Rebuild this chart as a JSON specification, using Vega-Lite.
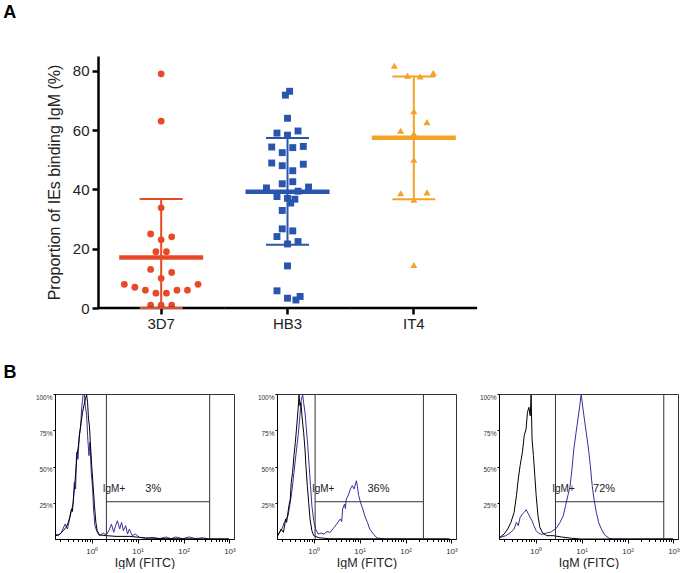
{
"$schema":"https://vega.github.io/schema/vega-lite/v6.json",
"padding":{"left":2,"top":4,"right":0,"bottom":0},
"config":{"font":"Liberation Sans","view":{"stroke":null}},
"datasets":{
"pts":[
{"strain":"3D7","v":79,"slot":0},{"strain":"3D7","v":63,"slot":0},{"strain":"3D7","v":33.8,"slot":0},{"strain":"3D7","v":25,"slot":-2},{"strain":"3D7","v":24,"slot":2},{"strain":"3D7","v":23,"slot":0},{"strain":"3D7","v":19,"slot":-1},{"strain":"3D7","v":19,"slot":1},{"strain":"3D7","v":13,"slot":-2},{"strain":"3D7","v":12,"slot":2},{"strain":"3D7","v":10,"slot":0},{"strain":"3D7","v":8,"slot":-7},{"strain":"3D7","v":8,"slot":7},{"strain":"3D7","v":7,"slot":-5},{"strain":"3D7","v":6,"slot":-3},{"strain":"3D7","v":6,"slot":3},{"strain":"3D7","v":6,"slot":5},{"strain":"3D7","v":5,"slot":-1},{"strain":"3D7","v":5,"slot":1},{"strain":"3D7","v":1,"slot":-2},{"strain":"3D7","v":1,"slot":0},{"strain":"3D7","v":1,"slot":2},
{"strain":"HB3","v":71.8,"slot":-0.4},{"strain":"HB3","v":73.1,"slot":0.4},{"strain":"HB3","v":64,"slot":0},{"strain":"HB3","v":59,"slot":-2},{"strain":"HB3","v":59.7,"slot":2},{"strain":"HB3","v":58.3,"slot":0},{"strain":"HB3","v":54.3,"slot":-3},{"strain":"HB3","v":54.1,"slot":1},{"strain":"HB3","v":54.5,"slot":3},{"strain":"HB3","v":52.4,"slot":-1},{"strain":"HB3","v":48.9,"slot":-3},{"strain":"HB3","v":48,"slot":-1},{"strain":"HB3","v":48.5,"slot":3},{"strain":"HB3","v":46.3,"slot":1},{"strain":"HB3","v":42.6,"slot":1},{"strain":"HB3","v":41.9,"slot":-1},{"strain":"HB3","v":40.5,"slot":-4},{"strain":"HB3","v":40.8,"slot":4},{"strain":"HB3","v":39.4,"slot":2},{"strain":"HB3","v":37.6,"slot":-2},{"strain":"HB3","v":37,"slot":0},{"strain":"HB3","v":35.4,"slot":0.6},{"strain":"HB3","v":36.7,"slot":1.4},{"strain":"HB3","v":32.9,"slot":-1},{"strain":"HB3","v":26.7,"slot":-1},{"strain":"HB3","v":26,"slot":1},{"strain":"HB3","v":24.1,"slot":-2},{"strain":"HB3","v":22.4,"slot":2},{"strain":"HB3","v":21.6,"slot":0},{"strain":"HB3","v":14.2,"slot":0},{"strain":"HB3","v":5.8,"slot":-2},{"strain":"HB3","v":3.3,"slot":0},{"strain":"HB3","v":2.7,"slot":1.6},{"strain":"HB3","v":3.9,"slot":2.4},
{"strain":"IT4","v":81.7,"slot":-3.7},{"strain":"IT4","v":78.4,"slot":-1.2},{"strain":"IT4","v":78.1,"slot":1.2},{"strain":"IT4","v":79.3,"slot":3.7},{"strain":"IT4","v":66.4,"slot":0},{"strain":"IT4","v":62.7,"slot":2.5},{"strain":"IT4","v":59.8,"slot":-2.5},{"strain":"IT4","v":58.8,"slot":0},{"strain":"IT4","v":50,"slot":0},{"strain":"IT4","v":38.7,"slot":-2.5},{"strain":"IT4","v":39,"slot":2.5},{"strain":"IT4","v":36.5,"slot":0},{"strain":"IT4","v":14.5,"slot":0}
],
"summ":[
{"strain":"3D7","mean":17,"lo":0,"hi":36.8},
{"strain":"HB3","mean":39.2,"lo":21.3,"hi":57.3},
{"strain":"IT4","mean":57.4,"lo":36.7,"hi":78.1}
],
"h1":[
{"s":"IgM","lx":-0.78,"pct":3.4},{"s":"IgM","lx":-0.73,"pct":2.3},{"s":"IgM","lx":-0.66,"pct":4.6},{"s":"IgM","lx":-0.58,"pct":10.3},{"s":"IgM","lx":-0.53,"pct":6.9},{"s":"IgM","lx":-0.49,"pct":12.6},{"s":"IgM","lx":-0.45,"pct":18.4},{"s":"IgM","lx":-0.40,"pct":25.3},{"s":"IgM","lx":-0.38,"pct":39},{"s":"IgM","lx":-0.35,"pct":34.5},{"s":"IgM","lx":-0.33,"pct":59.8},{"s":"IgM","lx":-0.30,"pct":55},{"s":"IgM","lx":-0.27,"pct":71.3},{"s":"IgM","lx":-0.24,"pct":78},{"s":"IgM","lx":-0.22,"pct":89.7},{"s":"IgM","lx":-0.19,"pct":98.9},{"s":"IgM","lx":-0.16,"pct":100},{"s":"IgM","lx":-0.14,"pct":92},{"s":"IgM","lx":-0.11,"pct":85},{"s":"IgM","lx":-0.09,"pct":71.3},{"s":"IgM","lx":-0.06,"pct":57.5},{"s":"IgM","lx":-0.04,"pct":66.7},{"s":"IgM","lx":-0.01,"pct":46},{"s":"IgM","lx":0.02,"pct":34.5},{"s":"IgM","lx":0.04,"pct":20.7},{"s":"IgM","lx":0.07,"pct":9.2},{"s":"IgM","lx":0.12,"pct":4.6},{"s":"IgM","lx":0.17,"pct":2.3},{"s":"IgM","lx":0.25,"pct":4.1},{"s":"IgM","lx":0.32,"pct":2.8},{"s":"IgM","lx":0.39,"pct":6.9},{"s":"IgM","lx":0.43,"pct":10.3},{"s":"IgM","lx":0.48,"pct":4.6},{"s":"IgM","lx":0.52,"pct":9.2},{"s":"IgM","lx":0.56,"pct":12.6},{"s":"IgM","lx":0.61,"pct":6.9},{"s":"IgM","lx":0.65,"pct":11.5},{"s":"IgM","lx":0.69,"pct":5.7},{"s":"IgM","lx":0.74,"pct":9.2},{"s":"IgM","lx":0.78,"pct":3.4},{"s":"IgM","lx":0.82,"pct":6.9},{"s":"IgM","lx":0.88,"pct":2.3},{"s":"IgM","lx":0.95,"pct":3.4},{"s":"IgM","lx":1.04,"pct":1.1},{"s":"IgM","lx":1.18,"pct":0.5},{"s":"IgM","lx":1.33,"pct":1.1},{"s":"IgM","lx":1.47,"pct":0.2},{"s":"IgM","lx":1.62,"pct":1.4},{"s":"IgM","lx":1.73,"pct":0.2},{"s":"IgM","lx":1.83,"pct":1.4},{"s":"IgM","lx":1.98,"pct":0.2},{"s":"IgM","lx":2.12,"pct":1.4},{"s":"IgM","lx":2.27,"pct":0.2},{"s":"IgM","lx":2.41,"pct":0.9},{"s":"IgM","lx":2.55,"pct":0},{"s":"IgM","lx":2.99,"pct":0},
{"s":"Control","lx":-0.78,"pct":2.3},{"s":"Control","lx":-0.69,"pct":3.4},{"s":"Control","lx":-0.62,"pct":5.7},{"s":"Control","lx":-0.56,"pct":8},{"s":"Control","lx":-0.51,"pct":11.5},{"s":"Control","lx":-0.48,"pct":15},{"s":"Control","lx":-0.44,"pct":20.7},{"s":"Control","lx":-0.42,"pct":19},{"s":"Control","lx":-0.40,"pct":27.6},{"s":"Control","lx":-0.37,"pct":36.8},{"s":"Control","lx":-0.35,"pct":46},{"s":"Control","lx":-0.32,"pct":57.5},{"s":"Control","lx":-0.29,"pct":64.4},{"s":"Control","lx":-0.26,"pct":73.6},{"s":"Control","lx":-0.23,"pct":80.5},{"s":"Control","lx":-0.20,"pct":87.4},{"s":"Control","lx":-0.17,"pct":92},{"s":"Control","lx":-0.14,"pct":96.6},{"s":"Control","lx":-0.11,"pct":99.3},{"s":"Control","lx":-0.09,"pct":94},{"s":"Control","lx":-0.07,"pct":82.8},{"s":"Control","lx":-0.05,"pct":78},{"s":"Control","lx":-0.03,"pct":66.7},{"s":"Control","lx":0.0,"pct":50.6},{"s":"Control","lx":0.03,"pct":36.8},{"s":"Control","lx":0.06,"pct":23},{"s":"Control","lx":0.09,"pct":11.5},{"s":"Control","lx":0.12,"pct":5.7},{"s":"Control","lx":0.17,"pct":2.8},{"s":"Control","lx":0.32,"pct":2.3},{"s":"Control","lx":0.53,"pct":1.8},{"s":"Control","lx":0.82,"pct":1.8},{"s":"Control","lx":0.97,"pct":1.4},{"s":"Control","lx":1.18,"pct":0.7},{"s":"Control","lx":1.62,"pct":0.2},{"s":"Control","lx":2.99,"pct":0}
],
"h2":[
{"s":"IgM","lx":-0.78,"pct":3.4},{"s":"IgM","lx":-0.71,"pct":5.7},{"s":"IgM","lx":-0.64,"pct":11.5},{"s":"IgM","lx":-0.56,"pct":16},{"s":"IgM","lx":-0.51,"pct":25.3},{"s":"IgM","lx":-0.47,"pct":34.5},{"s":"IgM","lx":-0.43,"pct":46},{"s":"IgM","lx":-0.39,"pct":57.5},{"s":"IgM","lx":-0.34,"pct":71.3},{"s":"IgM","lx":-0.30,"pct":85},{"s":"IgM","lx":-0.27,"pct":96.6},{"s":"IgM","lx":-0.24,"pct":99.3},{"s":"IgM","lx":-0.22,"pct":94},{"s":"IgM","lx":-0.19,"pct":87.4},{"s":"IgM","lx":-0.16,"pct":75.9},{"s":"IgM","lx":-0.13,"pct":64.4},{"s":"IgM","lx":-0.10,"pct":50.6},{"s":"IgM","lx":-0.07,"pct":36.8},{"s":"IgM","lx":-0.04,"pct":23},{"s":"IgM","lx":0.0,"pct":12.6},{"s":"IgM","lx":0.04,"pct":6.9},{"s":"IgM","lx":0.10,"pct":3.4},{"s":"IgM","lx":0.16,"pct":4.1},{"s":"IgM","lx":0.22,"pct":3.4},{"s":"IgM","lx":0.29,"pct":5.1},{"s":"IgM","lx":0.36,"pct":4.6},{"s":"IgM","lx":0.43,"pct":7.4},{"s":"IgM","lx":0.50,"pct":10.3},{"s":"IgM","lx":0.58,"pct":13.8},{"s":"IgM","lx":0.61,"pct":12},{"s":"IgM","lx":0.63,"pct":20.7},{"s":"IgM","lx":0.67,"pct":24.1},{"s":"IgM","lx":0.69,"pct":21},{"s":"IgM","lx":0.71,"pct":27.6},{"s":"IgM","lx":0.75,"pct":29.9},{"s":"IgM","lx":0.80,"pct":34.5},{"s":"IgM","lx":0.84,"pct":36.8},{"s":"IgM","lx":0.88,"pct":34.5},{"s":"IgM","lx":0.93,"pct":40.2},{"s":"IgM","lx":0.95,"pct":36.8},{"s":"IgM","lx":0.98,"pct":29.9},{"s":"IgM","lx":1.03,"pct":24.1},{"s":"IgM","lx":1.07,"pct":20.7},{"s":"IgM","lx":1.11,"pct":16},{"s":"IgM","lx":1.17,"pct":11.5},{"s":"IgM","lx":1.22,"pct":6.9},{"s":"IgM","lx":1.30,"pct":3.4},{"s":"IgM","lx":1.38,"pct":0.7},{"s":"IgM","lx":1.54,"pct":0},{"s":"IgM","lx":2.96,"pct":0},
{"s":"Control","lx":-0.78,"pct":2.3},{"s":"Control","lx":-0.71,"pct":6.9},{"s":"Control","lx":-0.66,"pct":4.6},{"s":"Control","lx":-0.61,"pct":13.8},{"s":"Control","lx":-0.59,"pct":11.5},{"s":"Control","lx":-0.54,"pct":23},{"s":"Control","lx":-0.51,"pct":27.6},{"s":"Control","lx":-0.49,"pct":39},{"s":"Control","lx":-0.46,"pct":46},{"s":"Control","lx":-0.43,"pct":57.5},{"s":"Control","lx":-0.40,"pct":66.7},{"s":"Control","lx":-0.37,"pct":78},{"s":"Control","lx":-0.34,"pct":89.7},{"s":"Control","lx":-0.32,"pct":99.3},{"s":"Control","lx":-0.30,"pct":92},{"s":"Control","lx":-0.28,"pct":94},{"s":"Control","lx":-0.25,"pct":82.8},{"s":"Control","lx":-0.22,"pct":73.6},{"s":"Control","lx":-0.19,"pct":62},{"s":"Control","lx":-0.17,"pct":50.6},{"s":"Control","lx":-0.14,"pct":36.8},{"s":"Control","lx":-0.11,"pct":25.3},{"s":"Control","lx":-0.08,"pct":13.8},{"s":"Control","lx":-0.04,"pct":5.7},{"s":"Control","lx":0.0,"pct":2.3},{"s":"Control","lx":0.11,"pct":0.9},{"s":"Control","lx":0.33,"pct":0.2},{"s":"Control","lx":2.96,"pct":0}
],
"h3":[
{"s":"IgM","lx":-0.78,"pct":1.1},{"s":"IgM","lx":-0.65,"pct":2.3},{"s":"IgM","lx":-0.54,"pct":4.6},{"s":"IgM","lx":-0.47,"pct":6.9},{"s":"IgM","lx":-0.42,"pct":11.5},{"s":"IgM","lx":-0.38,"pct":9.2},{"s":"IgM","lx":-0.34,"pct":14.9},{"s":"IgM","lx":-0.29,"pct":17.2},{"s":"IgM","lx":-0.25,"pct":18.4},{"s":"IgM","lx":-0.21,"pct":20.2},{"s":"IgM","lx":-0.17,"pct":17.9},{"s":"IgM","lx":-0.12,"pct":14.9},{"s":"IgM","lx":-0.08,"pct":12.6},{"s":"IgM","lx":-0.04,"pct":9.2},{"s":"IgM","lx":0.01,"pct":5.7},{"s":"IgM","lx":0.06,"pct":4.1},{"s":"IgM","lx":0.13,"pct":3.2},{"s":"IgM","lx":0.24,"pct":4.1},{"s":"IgM","lx":0.35,"pct":5.1},{"s":"IgM","lx":0.45,"pct":7.4},{"s":"IgM","lx":0.53,"pct":11.5},{"s":"IgM","lx":0.60,"pct":16},{"s":"IgM","lx":0.65,"pct":23},{"s":"IgM","lx":0.70,"pct":29.9},{"s":"IgM","lx":0.75,"pct":36.8},{"s":"IgM","lx":0.79,"pct":48.3},{"s":"IgM","lx":0.83,"pct":62},{"s":"IgM","lx":0.88,"pct":73.6},{"s":"IgM","lx":0.92,"pct":82.8},{"s":"IgM","lx":0.96,"pct":92},{"s":"IgM","lx":0.99,"pct":100},{"s":"IgM","lx":1.03,"pct":89.7},{"s":"IgM","lx":1.06,"pct":82.8},{"s":"IgM","lx":1.10,"pct":73.6},{"s":"IgM","lx":1.15,"pct":62},{"s":"IgM","lx":1.19,"pct":50.6},{"s":"IgM","lx":1.23,"pct":36.8},{"s":"IgM","lx":1.27,"pct":27.6},{"s":"IgM","lx":1.32,"pct":18.4},{"s":"IgM","lx":1.37,"pct":11.5},{"s":"IgM","lx":1.43,"pct":6.9},{"s":"IgM","lx":1.50,"pct":2.8},{"s":"IgM","lx":1.60,"pct":0.5},{"s":"IgM","lx":1.70,"pct":0},{"s":"IgM","lx":2.99,"pct":0},
{"s":"Control","lx":-0.78,"pct":1.1},{"s":"Control","lx":-0.69,"pct":3.4},{"s":"Control","lx":-0.61,"pct":6.9},{"s":"Control","lx":-0.54,"pct":11.5},{"s":"Control","lx":-0.47,"pct":18.4},{"s":"Control","lx":-0.42,"pct":29.9},{"s":"Control","lx":-0.38,"pct":41.4},{"s":"Control","lx":-0.34,"pct":50.6},{"s":"Control","lx":-0.29,"pct":59.8},{"s":"Control","lx":-0.25,"pct":71.3},{"s":"Control","lx":-0.21,"pct":75.9},{"s":"Control","lx":-0.18,"pct":87.4},{"s":"Control","lx":-0.15,"pct":90.8},{"s":"Control","lx":-0.12,"pct":85},{"s":"Control","lx":-0.10,"pct":99.3},{"s":"Control","lx":-0.08,"pct":69},{"s":"Control","lx":-0.05,"pct":57.5},{"s":"Control","lx":-0.02,"pct":43.7},{"s":"Control","lx":0.01,"pct":29.9},{"s":"Control","lx":0.05,"pct":16},{"s":"Control","lx":0.09,"pct":8},{"s":"Control","lx":0.15,"pct":4.1},{"s":"Control","lx":0.24,"pct":2.3},{"s":"Control","lx":0.38,"pct":2.3},{"s":"Control","lx":0.56,"pct":1.4},{"s":"Control","lx":0.78,"pct":0.5},{"s":"Control","lx":0.99,"pct":0},{"s":"Control","lx":2.99,"pct":0}
],
"gates":[
{"panel":1,"lo":0.32,"hi":2.57,"h":25.7,"labx":0.24,"pctx":1.34,"laby":34.5,"pos":"3%","lab":"IgM+"},
{"panel":2,"lo":0.03,"hi":2.39,"h":25.7,"labx":-0.04,"pctx":1.41,"laby":34.5,"pos":"36%","lab":"IgM+"},
{"panel":3,"lo":0.43,"hi":2.79,"h":25.7,"labx":0.36,"pctx":1.49,"laby":34.5,"pos":"72%","lab":"IgM+"}
]
},
"spacing":32,
"vconcat":[
{
"title":{"text":"A","anchor":"start","fontSize":18,"fontWeight":"bold","dx":-43,"offset":34,"color":"#000"},
"width":422,"height":252,
"layer":[
{"data":{"name":"pts"},"mark":{"type":"point","filled":true,"opacity":1},
"encoding":{
"x":{"field":"strain","type":"nominal","scale":{"domain":["3D7","HB3","IT4"],"paddingInner":0,"paddingOuter":0.1702,"align":1},"axis":{"title":null,"labelAngle":0,"labelFontSize":15,"labelColor":"#222","domain":false,"tickColor":"#000","tickWidth":2.5,"tickSize":6,"labelPadding":2}},
"xOffset":{"field":"slot","type":"quantitative","scale":{"domain":[-12,12],"nice":false,"zero":false}},
"y":{"field":"v","type":"quantitative","scale":{"domain":[0,85],"nice":false},"axis":{"offset":-43,"title":"Proportion of IEs binding IgM (%)","titleFontSize":16,"titleFontWeight":"normal","titleColor":"#222","titlePadding":10,"values":[0,20,40,60,80],"labelFontSize":15,"labelColor":"#222","domainColor":"#000","domainWidth":2.5,"tickColor":"#000","tickWidth":2.5,"tickSize":6,"labelPadding":3,"grid":false}},
"color":{"field":"strain","type":"nominal","scale":{"domain":["3D7","HB3","IT4"],"range":["#E84A27","#2A55AE","#F5A327"]},"legend":null},
"shape":{"field":"strain","type":"nominal","scale":{"domain":["3D7","HB3","IT4"],"range":["circle","square","triangle-up"]},"legend":null},
"size":{"field":"strain","type":"ordinal","scale":{"domain":["3D7","HB3","IT4"],"range":[46,50,60]},"legend":null}
}},
{"data":{"name":"summ"},"mark":{"type":"tick","size":126.6,"thickness":2.5,"opacity":1,"color":"#000"},
"encoding":{"x":{"field":"strain","type":"nominal"},"y":{"datum":0,"type":"quantitative"}}},
{"data":{"name":"summ"},"mark":{"type":"rule","strokeWidth":2,"opacity":1},
"encoding":{"x":{"field":"strain","type":"nominal"},"y":{"field":"lo","type":"quantitative"},"y2":{"field":"hi"},"color":{"field":"strain","type":"nominal","legend":null}}},
{"data":{"name":"summ"},"mark":{"type":"tick","size":43,"thickness":2,"opacity":1},
"encoding":{"x":{"field":"strain","type":"nominal"},"y":{"field":"lo","type":"quantitative"},"color":{"field":"strain","type":"nominal","legend":null}}},
{"data":{"name":"summ"},"mark":{"type":"tick","size":43,"thickness":2,"opacity":1},
"encoding":{"x":{"field":"strain","type":"nominal"},"y":{"field":"hi","type":"quantitative"},"color":{"field":"strain","type":"nominal","legend":null}}},
{"data":{"name":"summ"},"mark":{"type":"tick","size":84,"thickness":4.5,"opacity":1},
"encoding":{"x":{"field":"strain","type":"nominal"},"y":{"field":"mean","type":"quantitative"},"color":{"field":"strain","type":"nominal","legend":null}}}
]
},
{
"spacing":20,
"hconcat":[
{"width":179,"height":145,"view":{"stroke":"#333"},
"title":{"text":"B","anchor":"start","fontSize":18,"fontWeight":"bold","dx":-32,"offset":12,"color":"#000"},
"resolve":{"axis":{"x":"independent"}},
"layer":[
{"data":{"name":"h1"},"transform":[{"filter":"datum.s=='IgM'"}],"mark":{"type":"line","strokeWidth":1,"clip":true,"color":"#3C2C9C"},
"encoding":{
"x":{"field":"lx","type":"quantitative","scale":{"domain":[-0.8,3.1],"nice":false,"zero":false},"axis":{"orient":"bottom","title":null,"labels":false,"values":[-0.699,-0.523,-0.398,-0.301,-0.222,-0.155,-0.097,-0.046,0.301,0.477,0.602,0.699,0.778,0.845,0.903,0.954,1.301,1.477,1.602,1.699,1.778,1.845,1.903,1.954,2.301,2.477,2.602,2.699,2.778,2.845,2.903,2.954],"tickSize":2.5,"tickColor":"#000","domainColor":"#000","grid":false}},
"y":{"field":"pct","type":"quantitative","scale":{"domain":[0,100],"nice":false},"axis":{"title":null,"values":[25,50,75,100],"labelExpr":"datum.value+'%'","labelFontSize":6.5,"labelColor":"#333","tickSize":2,"labelPadding":1,"labelOffset":3,"domainColor":"#000","tickColor":"#000","grid":false}}
}},
{"data":{"name":"h1"},"transform":[{"filter":"datum.s=='Control'"}],"mark":{"type":"line","strokeWidth":1,"clip":true,"color":"#000"},
"encoding":{
"x":{"field":"lx","type":"quantitative","axis":{"orient":"bottom","title":"IgM (FITC)","titleFontSize":12.5,"titleFontWeight":"normal","titleColor":"#222","titlePadding":1,"values":[0,1,2,3],"labelExpr":"datum.value==0?'10⁰':datum.value==1?'10¹':datum.value==2?'10²':'10³'","labelFontSize":8,"labelColor":"#333","labelFlush":false,"tickSize":4,"tickColor":"#000","domain":false,"labelPadding":4,"grid":false}},
"y":{"field":"pct","type":"quantitative"}
}},
{"data":{"name":"gates"},"transform":[{"filter":"datum.panel==1"}],"mark":{"type":"rule","color":"#333","strokeWidth":1},"encoding":{"x":{"field":"lo","type":"quantitative","axis":null}}},
{"data":{"name":"gates"},"transform":[{"filter":"datum.panel==1"}],"mark":{"type":"rule","color":"#333","strokeWidth":1},"encoding":{"x":{"field":"hi","type":"quantitative","axis":null}}},
{"data":{"name":"gates"},"transform":[{"filter":"datum.panel==1"}],"mark":{"type":"rule","color":"#333","strokeWidth":1},"encoding":{"x":{"field":"lo","type":"quantitative","axis":null},"x2":{"field":"hi"},"y":{"field":"h","type":"quantitative"}}},
{"data":{"name":"gates"},"transform":[{"filter":"datum.panel==1"}],"mark":{"type":"text","align":"left","fontSize":10,"color":"#222"},"encoding":{"x":{"field":"labx","type":"quantitative","axis":null},"y":{"field":"laby","type":"quantitative"},"text":{"field":"lab"}}},
{"data":{"name":"gates"},"transform":[{"filter":"datum.panel==1"}],"mark":{"type":"text","align":"center","fontSize":11,"color":"#222"},"encoding":{"x":{"field":"pctx","type":"quantitative","axis":null},"y":{"field":"laby","type":"quantitative"},"text":{"field":"pos"}}}
]},
{"width":179,"height":145,"view":{"stroke":"#333"},
"resolve":{"axis":{"x":"independent"}},
"layer":[
{"data":{"name":"h2"},"transform":[{"filter":"datum.s=='IgM'"}],"mark":{"type":"line","strokeWidth":1,"clip":true,"color":"#3C2C9C"},
"encoding":{
"x":{"field":"lx","type":"quantitative","scale":{"domain":[-0.8,3.1],"nice":false,"zero":false},"axis":{"orient":"bottom","title":null,"labels":false,"values":[-0.699,-0.523,-0.398,-0.301,-0.222,-0.155,-0.097,-0.046,0.301,0.477,0.602,0.699,0.778,0.845,0.903,0.954,1.301,1.477,1.602,1.699,1.778,1.845,1.903,1.954,2.301,2.477,2.602,2.699,2.778,2.845,2.903,2.954],"tickSize":2.5,"tickColor":"#000","domainColor":"#000","grid":false}},
"y":{"field":"pct","type":"quantitative","scale":{"domain":[0,100],"nice":false},"axis":{"title":null,"values":[25,50,75,100],"labelExpr":"datum.value+'%'","labelFontSize":6.5,"labelColor":"#333","tickSize":2,"labelPadding":1,"labelOffset":3,"domainColor":"#000","tickColor":"#000","grid":false}}
}},
{"data":{"name":"h2"},"transform":[{"filter":"datum.s=='Control'"}],"mark":{"type":"line","strokeWidth":1,"clip":true,"color":"#000"},
"encoding":{
"x":{"field":"lx","type":"quantitative","axis":{"orient":"bottom","title":"IgM (FITC)","titleFontSize":12.5,"titleFontWeight":"normal","titleColor":"#222","titlePadding":1,"values":[0,1,2,3],"labelExpr":"datum.value==0?'10⁰':datum.value==1?'10¹':datum.value==2?'10²':'10³'","labelFontSize":8,"labelColor":"#333","labelFlush":false,"tickSize":4,"tickColor":"#000","domain":false,"labelPadding":4,"grid":false}},
"y":{"field":"pct","type":"quantitative"}
}},
{"data":{"name":"gates"},"transform":[{"filter":"datum.panel==2"}],"mark":{"type":"rule","color":"#333","strokeWidth":1},"encoding":{"x":{"field":"lo","type":"quantitative","axis":null}}},
{"data":{"name":"gates"},"transform":[{"filter":"datum.panel==2"}],"mark":{"type":"rule","color":"#333","strokeWidth":1},"encoding":{"x":{"field":"hi","type":"quantitative","axis":null}}},
{"data":{"name":"gates"},"transform":[{"filter":"datum.panel==2"}],"mark":{"type":"rule","color":"#333","strokeWidth":1},"encoding":{"x":{"field":"lo","type":"quantitative","axis":null},"x2":{"field":"hi"},"y":{"field":"h","type":"quantitative"}}},
{"data":{"name":"gates"},"transform":[{"filter":"datum.panel==2"}],"mark":{"type":"text","align":"left","fontSize":10,"color":"#222"},"encoding":{"x":{"field":"labx","type":"quantitative","axis":null},"y":{"field":"laby","type":"quantitative"},"text":{"field":"lab"}}},
{"data":{"name":"gates"},"transform":[{"filter":"datum.panel==2"}],"mark":{"type":"text","align":"center","fontSize":11,"color":"#222"},"encoding":{"x":{"field":"pctx","type":"quantitative","axis":null},"y":{"field":"laby","type":"quantitative"},"text":{"field":"pos"}}}
]},
{"width":179,"height":145,"view":{"stroke":"#333"},
"resolve":{"axis":{"x":"independent"}},
"layer":[
{"data":{"name":"h3"},"transform":[{"filter":"datum.s=='IgM'"}],"mark":{"type":"line","strokeWidth":1,"clip":true,"color":"#3C2C9C"},
"encoding":{
"x":{"field":"lx","type":"quantitative","scale":{"domain":[-0.8,3.1],"nice":false,"zero":false},"axis":{"orient":"bottom","title":null,"labels":false,"values":[-0.699,-0.523,-0.398,-0.301,-0.222,-0.155,-0.097,-0.046,0.301,0.477,0.602,0.699,0.778,0.845,0.903,0.954,1.301,1.477,1.602,1.699,1.778,1.845,1.903,1.954,2.301,2.477,2.602,2.699,2.778,2.845,2.903,2.954],"tickSize":2.5,"tickColor":"#000","domainColor":"#000","grid":false}},
"y":{"field":"pct","type":"quantitative","scale":{"domain":[0,100],"nice":false},"axis":{"title":null,"values":[25,50,75,100],"labelExpr":"datum.value+'%'","labelFontSize":6.5,"labelColor":"#333","tickSize":2,"labelPadding":1,"labelOffset":3,"domainColor":"#000","tickColor":"#000","grid":false}}
}},
{"data":{"name":"h3"},"transform":[{"filter":"datum.s=='Control'"}],"mark":{"type":"line","strokeWidth":1,"clip":true,"color":"#000"},
"encoding":{
"x":{"field":"lx","type":"quantitative","axis":{"orient":"bottom","title":"IgM (FITC)","titleFontSize":12.5,"titleFontWeight":"normal","titleColor":"#222","titlePadding":1,"values":[0,1,2,3],"labelExpr":"datum.value==0?'10⁰':datum.value==1?'10¹':datum.value==2?'10²':'10³'","labelFontSize":8,"labelColor":"#333","labelFlush":false,"tickSize":4,"tickColor":"#000","domain":false,"labelPadding":4,"grid":false}},
"y":{"field":"pct","type":"quantitative"}
}},
{"data":{"name":"gates"},"transform":[{"filter":"datum.panel==3"}],"mark":{"type":"rule","color":"#333","strokeWidth":1},"encoding":{"x":{"field":"lo","type":"quantitative","axis":null}}},
{"data":{"name":"gates"},"transform":[{"filter":"datum.panel==3"}],"mark":{"type":"rule","color":"#333","strokeWidth":1},"encoding":{"x":{"field":"hi","type":"quantitative","axis":null}}},
{"data":{"name":"gates"},"transform":[{"filter":"datum.panel==3"}],"mark":{"type":"rule","color":"#333","strokeWidth":1},"encoding":{"x":{"field":"lo","type":"quantitative","axis":null},"x2":{"field":"hi"},"y":{"field":"h","type":"quantitative"}}},
{"data":{"name":"gates"},"transform":[{"filter":"datum.panel==3"}],"mark":{"type":"text","align":"left","fontSize":10,"color":"#222"},"encoding":{"x":{"field":"labx","type":"quantitative","axis":null},"y":{"field":"laby","type":"quantitative"},"text":{"field":"lab"}}},
{"data":{"name":"gates"},"transform":[{"filter":"datum.panel==3"}],"mark":{"type":"text","align":"center","fontSize":11,"color":"#222"},"encoding":{"x":{"field":"pctx","type":"quantitative","axis":null},"y":{"field":"laby","type":"quantitative"},"text":{"field":"pos"}}}
]}
]
}
]
}
